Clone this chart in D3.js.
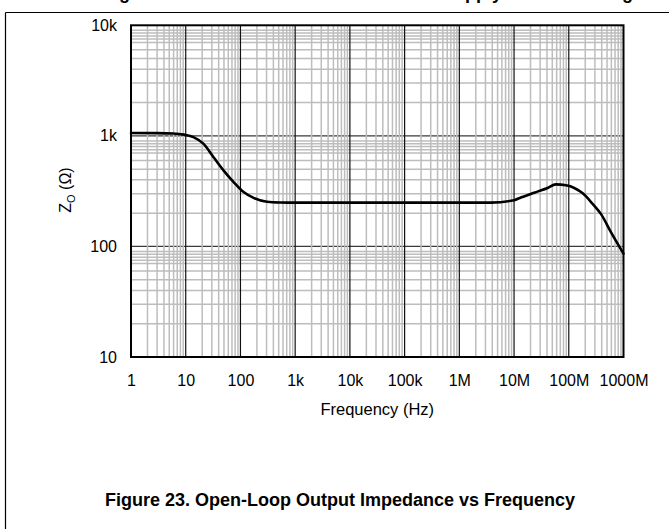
<!DOCTYPE html>
<html><head><meta charset="utf-8">
<script src="https://cdn.jsdelivr.net/npm/d3@7"></script>
<style>html,body{margin:0;padding:0;background:#fff;}svg{display:block;}</style>
</head><body>
<svg id="chart" width="669" height="529"></svg>
<script>
// ---- data ----
const freqHz = [1, 3, 6, 8, 10, 13.8, 21, 32, 49, 75, 114, 174, 306, 536, 1000, 1e4, 1e5, 1e6, 3.76e6, 1e7, 1.33e7, 2.33e7, 4.1e7, 5.8e7, 8.9e7, 1.26e8, 1.8e8, 2.74e8, 3.89e8, 5.93e8, 1e9];
const zOhm  = [1060, 1058, 1050, 1035, 1020, 975, 850, 645, 488, 382, 310, 275, 254, 250, 249, 249, 249, 249, 249, 262, 277, 306, 338, 364, 357, 338, 302, 242, 196, 134, 86];
const xTickValues = [1, 10, 100, 1e3, 1e4, 1e5, 1e6, 1e7, 1e8, 1e9];
const xTickLabels = ["1", "10", "100", "1k", "10k", "100k", "1M", "10M", "100M", "1000M"];
const yTickValues = [10, 100, 1000, 10000];
const yTickLabels = ["10", "100", "1k", "10k"];
const xMinorMult = [2, 3, 4, 5, 6, 7, 8, 9];
const yMinorMult = [2, 3, 4, 5, 6, 7, 7.5, 8, 8.5, 9];
const xTitle = "Frequency (Hz)";
const caption = "Figure 23. Open-Loop Output Impedance vs Frequency";
const prevCaption = "Figure 22. Slew Rate and Bandwidth vs Supply Current Change";

// ---- layout ----
const svg = d3.select("#chart");
const L = 131, R = 623.5, T = 25.3, B = 357;
const x = d3.scaleLog().domain([1, 1e9]).range([L, R]);
const y = d3.scaleLog().domain([10, 1e4]).range([B, T]);

// page frame
svg.append("line").attr("x1", 5.5).attr("x2", 669).attr("y1", 12.5).attr("y2", 12.5).attr("stroke", "#000").attr("stroke-width", 1.2);
svg.append("line").attr("x1", 5.5).attr("x2", 5.5).attr("y1", 12.5).attr("y2", 529).attr("stroke", "#000").attr("stroke-width", 1.2);
svg.append("text").attr("x", 103).attr("y", -1.5).attr("font-family", "Liberation Sans, Arial, sans-serif")
  .attr("font-weight", "bold").attr("font-size", 18).attr("fill", "#000").text(prevCaption);

function minors(dom, mults) {
  const out = [];
  for (let d = dom[0]; d < dom[1]; d *= 10) mults.forEach(m => out.push(d * m));
  return out;
}
const g = svg.append("g");
// horizontal minor
g.selectAll(".hmin").data(minors(y.domain(), yMinorMult)).enter().append("line")
  .attr("x1", L).attr("x2", R).attr("y1", d => y(d)).attr("y2", d => y(d))
  .attr("stroke", "#bdbdbd").attr("stroke-width", 1.5);
// horizontal major
g.selectAll(".hmaj").data(yTickValues.slice(1, -1)).enter().append("line")
  .attr("x1", L).attr("x2", R).attr("y1", d => y(d)).attr("y2", d => y(d))
  .attr("stroke", "#3a3a3a").attr("stroke-width", 1.2);
// vertical minor
g.selectAll(".vmin").data(minors(x.domain(), xMinorMult)).enter().append("line")
  .attr("y1", T).attr("y2", B).attr("x1", d => x(d)).attr("x2", d => x(d))
  .attr("stroke", "#bdbdbd").attr("stroke-width", 1.5);
// vertical major
g.selectAll(".vmaj").data(xTickValues.slice(1, -1)).enter().append("line")
  .attr("y1", T).attr("y2", B).attr("x1", d => x(d)).attr("x2", d => x(d))
  .attr("stroke", "#111").attr("stroke-width", 1.2);

// curve
const line = d3.line().x((d, i) => x(freqHz[i])).y(d => y(d)).curve(d3.curveMonotoneX);
svg.append("path").attr("d", line(zOhm)).attr("fill", "none").attr("stroke", "#000").attr("stroke-width", 2.6)
  .attr("stroke-linejoin", "round").attr("stroke-linecap", "round");

// border
svg.append("rect").attr("x", L).attr("y", T).attr("width", R - L).attr("height", B - T)
  .attr("fill", "none").attr("stroke", "#000").attr("stroke-width", 2);

// axes (labels only)
const font = "Liberation Sans, Arial, sans-serif";
const xAxis = d3.axisBottom(x).tickValues(xTickValues).tickSize(0).tickPadding(0)
  .tickFormat((d, i) => xTickLabels[i]);
const xa = svg.append("g").attr("transform", `translate(0,${B})`).call(xAxis);
xa.select(".domain").remove();
xa.selectAll("text").attr("font-family", font).attr("font-size", 16).attr("fill", "#000").attr("dy", null).attr("y", 29);

const yAxis = d3.axisLeft(y).tickValues(yTickValues).tickSize(0).tickPadding(0)
  .tickFormat((d, i) => yTickLabels[i]);
const ya = svg.append("g").attr("transform", `translate(${L - 14},0)`).call(yAxis);
ya.select(".domain").remove();
ya.selectAll("text").attr("font-family", font).attr("font-size", 16).attr("fill", "#000").attr("dy", "0.32em");

// axis titles
svg.append("text").attr("x", (L + R) / 2).attr("y", 415).attr("text-anchor", "middle")
  .attr("font-family", font).attr("font-size", 16.5).attr("fill", "#000").text(xTitle);
const yt = svg.append("text").attr("transform", "translate(71,190) rotate(-90)").attr("text-anchor", "middle")
  .attr("font-family", font).attr("font-size", 16).attr("fill", "#000");
yt.append("tspan").text("Z");
yt.append("tspan").attr("font-size", 11).attr("dy", 4).text("O");
yt.append("tspan").attr("dy", -4).text(" (Ω)");

// caption
svg.append("text").attr("x", 340).attr("y", 506).attr("text-anchor", "middle")
  .attr("font-family", font).attr("font-weight", "bold").attr("font-size", 18).attr("fill", "#000").text(caption);
</script>
</body></html>
